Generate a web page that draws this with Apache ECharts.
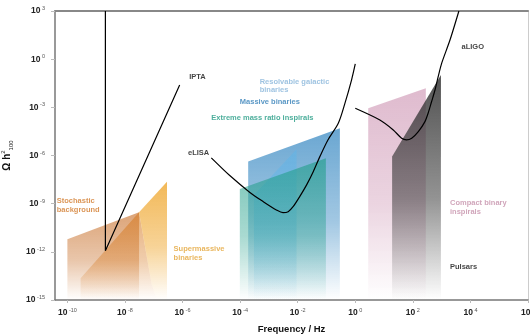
<!DOCTYPE html>
<html><head><meta charset="utf-8">
<script src="https://cdn.jsdelivr.net/npm/echarts@6/dist/echarts.min.js"></script>
<style>html,body{margin:0;padding:0;background:#fff}#c{width:530px;height:334px}</style>
</head><body><div id="c"></div>
<script>
// axis ticks (log10 exponents)
const xTickExps = [-10, -8, -6, -4, -2, 0, 2, 4, 6];
const yTickExps = [-15, -12, -9, -6, -3, 0, 3];
const xRange = [-10.43, 6];
const yRange = [-15, 3];

// sensitivity curves [log10 f, log10 Omega h^2]
const iptaCurve = [[-8.68, 3], [-8.68, -11.94], [-6.10, -1.61]];
const elisaCurve = [[-5.0, -6.15], [-4.36, -7.25], [-3.66, -8.30], [-3.20, -8.87], [-2.74, -9.39],
  [-2.51, -9.56], [-2.33, -9.50], [-2.16, -9.19], [-1.93, -8.56], [-1.69, -7.83], [-1.46, -7.01], [-1.23, -6.07],
  [-0.95, -5.03], [-0.59, -3.99], [-0.36, -2.75], [-0.13, -1.30], [0.0, -0.30]];
const aligoCurve = [[0.0, -3.06], [0.855, -3.79], [1.32, -4.41], [1.61, -4.93], [1.78, -5.03], [1.96, -4.93],
  [2.19, -4.52], [2.42, -3.89], [2.53, -3.37], [2.65, -2.65], [2.77, -1.92], [2.88, -1.09], [3.0, -0.26],
  [3.29, 1.19], [3.6, 3.0]];

// source regions (polygons in log10 space)
const stochasticA = [[-10, -15], [-10, -11.22], [-7.51, -9.53], [-7.51, -15]];
const stochasticB = [[-9.54, -15], [-9.54, -13.64], [-7.51, -9.53], [-7.08, -13.96], [-6.91, -15]];
const supermassive = [[-7.51, -9.53], [-6.54, -7.63], [-6.54, -15], [-6.91, -15], [-7.08, -13.96]];
const massiveBin = [[-3.72, -15], [-3.72, -6.38], [-0.535, -4.30], [-0.535, -15]];
const resolvable = [[-3.52, -15], [-3.52, -8.46], [-2.04, -5.61], [-2.04, -15]];
const emri = [[-4.01, -15], [-4.01, -8.08], [-1.02, -6.17], [-1.02, -15]];
const compactBin = [[0.45, -15], [0.45, -3.06], [2.45, -1.81], [2.45, -15]];
const pulsars = [[1.28, -15], [1.28, -6.07], [2.975, -0.985], [2.975, -15]];

// annotation anchor points
const labelTexts = ['IPTA', 'eLISA', 'aLIGO', 'Resolvable galactic\nbinaries', 'Massive binaries',
  'Extreme mass ratio inspirals', 'Stochastic\nbackground', 'Supermassive\nbinaries', 'Compact binary\ninspirals', 'Pulsars'];
const labelPos = [[-5.77, -1.13], [-5.81, -5.86], [3.69, 0.74], [-3.32, -1.66], [-4.01, -2.68],
  [-5.0, -3.68], [-10.37, -9.11], [-6.31, -12.10], [3.29, -9.22], [3.29, -12.96]];
const labelColors = ['#111', '#111', '#111', '#86b4da', '#2f7db6', '#1f9a82', '#d27a2c', '#e3a436', '#c48ea9', '#111'];

const chart = echarts.init(document.getElementById('c'), null, {renderer: 'canvas'});

function grad(rgb, a0) {
  return new echarts.graphic.LinearGradient(0, 0, 0, 1, [
    {offset: 0, color: 'rgba(' + rgb + ',' + a0 + ')'},
    {offset: 0.55, color: 'rgba(' + rgb + ',' + (a0 * 0.62).toFixed(3) + ')'},
    {offset: 1, color: 'rgba(' + rgb + ',0)'}
  ]);
}
function polySeries(poly, rgb, a0, z) {
  return {
    type: 'custom', z: z, silent: true, clip: true,
    data: [0],
    renderItem: function (params, api) {
      return {type: 'polygon', shape: {points: poly.map(p => api.coord(p))},
        style: {fill: grad(rgb, a0)}};
    }
  };
}
function lineSeries(d, sm) {
  return {type: 'line', data: d, symbol: 'none', smooth: sm, z: 5,
    lineStyle: {color: '#000', width: 1.2}, silent: true};
}
const tickRich = {
  b: {fontSize: 8.5, fontWeight: 'bold', color: '#222', fontFamily: 'Liberation Sans', lineHeight: 11},
  e: {fontSize: 5.5, color: '#555', fontFamily: 'Liberation Sans', lineHeight: 7, verticalAlign: 'top'}
};
const fmt = v => '{b|10}{e| ' + v + '}';

chart.setOption({
  animation: false,
  grid: {left: 55, right: 2, top: 11, bottom: 34, show: false, containLabel: false, outerBoundsMode: 'none'},
  xAxis: [{
    type: 'value', min: xRange[0], max: xRange[1],
    name: 'Frequency / Hz', nameLocation: 'middle', nameGap: 24,
    nameTextStyle: {fontSize: 9.5, fontWeight: 'bold', color: '#111', fontFamily: 'Liberation Sans'},
    axisLine: {show: true, onZero: false, lineStyle: {color: '#777', width: 1.5}},
    axisTick: {show: true, customValues: xTickExps, length: 3, lineStyle: {color: '#bbb'}},
    axisLabel: {customValues: xTickExps, formatter: fmt, rich: tickRich, margin: 7},
    splitLine: {show: false}
  }, {
    type: 'value', position: 'top', min: xRange[0], max: xRange[1],
    axisLine: {show: true, onZero: false, lineStyle: {color: '#888', width: 2}},
    axisTick: {show: false}, axisLabel: {show: false}, splitLine: {show: false}
  }],
  yAxis: [{
    type: 'value', min: yRange[0], max: yRange[1],
    name: '{a|Ω h}{s|2}{d|100}', nameLocation: 'middle', nameGap: 41, nameRotate: 90,
    nameTextStyle: {rich: {
      a: {fontSize: 10, fontWeight: 'bold', color: '#111', fontFamily: 'Liberation Sans', lineHeight: 14},
      s: {fontSize: 6, color: '#222', fontFamily: 'Liberation Sans', verticalAlign: 'top', lineHeight: 8},
      d: {fontSize: 6, color: '#222', fontFamily: 'Liberation Sans', verticalAlign: 'bottom', lineHeight: 8}
    }},
    axisLine: {show: true, onZero: false, lineStyle: {color: '#777', width: 1.5}},
    axisTick: {show: true, customValues: yTickExps, length: 4, lineStyle: {color: '#bbb'}},
    axisLabel: {customValues: yTickExps, formatter: fmt, rich: tickRich, margin: 10},
    splitLine: {show: false}
  }, {
    type: 'value', position: 'right', min: yRange[0], max: yRange[1],
    axisLine: {show: true, onZero: false, lineStyle: {color: '#ccc', width: 1}},
    axisTick: {show: false}, axisLabel: {show: false}, splitLine: {show: false}
  }],
  series: [
    polySeries(stochasticA, '205,125,62', 0.7, 1),
    polySeries(stochasticB, '214,122,34', 0.6, 1),
    polySeries(supermassive, '240,172,58', 0.85, 1),
    polySeries(massiveBin, '48,132,192', 0.72, 1),
    polySeries(resolvable, '95,180,232', 0.55, 1),
    polySeries(emri, '32,158,136', 0.62, 1),
    polySeries(compactBin, '206,150,180', 0.65, 1),
    polySeries(pulsars, '50,50,50', 0.85, 1),
    lineSeries(iptaCurve, false),
    lineSeries(elisaCurve, 0.3),
    lineSeries(aligoCurve, 0.25),
    {
      type: 'scatter', symbolSize: 0, z: 6, silent: true,
      data: labelPos.map((p, i) => ({value: p, name: labelTexts[i],
        label: {color: labelColors[i]}})),
      label: {show: true, position: 'right', distance: 0, formatter: p => p.name,
        fontSize: 7.5, fontWeight: 'bold', fontFamily: 'Liberation Sans', lineHeight: 8.5, align: 'left'}
    }
  ]
});
</script></body></html>
